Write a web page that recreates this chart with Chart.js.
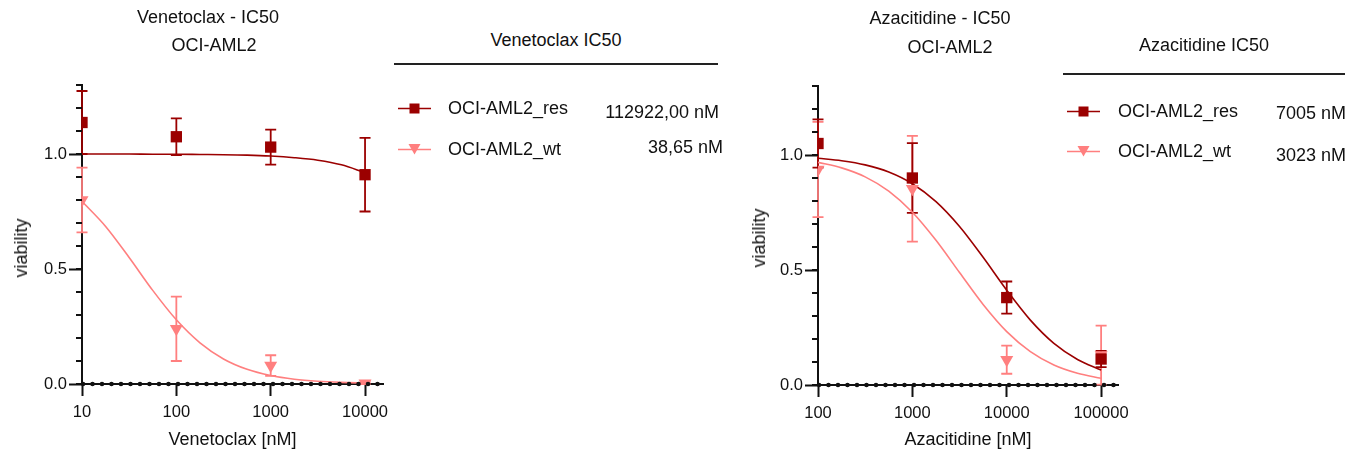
<!DOCTYPE html>
<html>
<head>
<meta charset="utf-8">
<script src="https://cdn.jsdelivr.net/npm/chart.js@4"></script>
<style>
  body { margin: 0; background: #fff; font-family: 'Liberation Sans', Arial, sans-serif; color: #111; }
  #wrap { position: relative; width: 1359px; height: 461px; overflow: hidden; }
  .cv { position: absolute; top: 0; height: 461px; }
  .txt { position: absolute; font-size: 18px; line-height: 22px; white-space: nowrap; }
  .ctr { transform: translateX(-50%); }
  .rt { transform: translateX(-100%); }
  .rot { transform: translate(-50%, -50%) rotate(-90deg); }
  .rule { position: absolute; height: 2px; background: #222; }
  .mk { position: absolute; }
</style>
</head>
<body>
<div id="wrap">
  <div class="cv" style="left:0;width:400px"><canvas id="venChart"></canvas></div>
  <div class="cv" style="left:740px;width:400px"><canvas id="azaChart"></canvas></div>

  <!-- titles -->
  <div class="txt ctr" style="left:208px;top:6px">Venetoclax - IC50</div>
  <div class="txt ctr" style="left:214px;top:34px">OCI-AML2</div>
  <div class="txt ctr" style="left:940px;top:7px">Azacitidine - IC50</div>
  <div class="txt ctr" style="left:950px;top:36px">OCI-AML2</div>

  <!-- y axis titles -->
  <div class="txt rot" style="left:21px;top:248px">viability</div>
  <div class="txt rot" style="left:759px;top:238px">viability</div>

  <!-- legend tables -->
  <div id="venLegend"></div>
  <div id="azaLegend"></div>
</div>

<script>
// ─── Data ──────────────────────────────────────────────────────────────────
const seriesNames = ['OCI-AML2_res', 'OCI-AML2_wt'];

const venDoses = [10, 100, 1000, 10000];
const venResMean = [1.137, 1.075, 1.03, 0.91];
const venResSd = [0.137, 0.08, 0.076, 0.16];
const venWtMean = [0.80, 0.24, 0.08, 0.003];
const venWtSd = [0.141, 0.14, 0.045, 0.005];
const venIc50 = ['112922,00 nM', '38,65 nM'];

const venCurveX = [10, 17.8, 31.6, 56.2, 100, 178, 316, 562, 1000, 1780, 3160, 5620, 10000];
const venResCurve = [1.000, 1.000, 1.000, 0.999, 0.999, 0.998, 0.997, 0.995, 0.991, 0.984, 0.973, 0.953, 0.919];
const venWtCurve = [0.794, 0.685, 0.550, 0.407, 0.279, 0.179, 0.109, 0.064, 0.037, 0.021, 0.012, 0.007, 0.004];

const azaDoses = [100, 1000, 10000, 100000];
const azaResMean = [1.05, 0.90, 0.38, 0.113];
const azaResSd = [0.105, 0.152, 0.07, 0.035];
const azaWtMean = [0.937, 0.853, 0.11, 0.13];
const azaWtSd = [0.207, 0.23, 0.061, 0.128];
const azaIc50 = ['7005 nM', '3023 nM'];

const azaCurveX = [100, 178, 316, 562, 1000, 1780, 3160, 5620, 10000, 17800, 31600, 56200, 100000];
const azaResCurve = [0.986, 0.975, 0.957, 0.926, 0.875, 0.797, 0.689, 0.555, 0.412, 0.282, 0.181, 0.111, 0.065];
const azaWtCurve = [0.968, 0.944, 0.905, 0.843, 0.751, 0.629, 0.489, 0.350, 0.232, 0.145, 0.087, 0.051, 0.029];

const yTicks = [0, 0.1, 0.2, 0.3, 0.4, 0.5, 0.6, 0.7, 0.8, 0.9, 1.0, 1.1, 1.2, 1.3];

// ─── Styling ───────────────────────────────────────────────────────────────
const RES = '#9b0000';
const WT = '#ff7f7f';
const FAMILY = "'Liberation Sans', Arial, sans-serif";
const TICK_FONT = { family: FAMILY, size: 16.5 };
const LABEL_FONT = { family: FAMILY, size: 18 };

const pts = (xs, ys) => xs.map((x, i) => ({ x, y: ys[i] }));
const isMajor = v => Math.abs(v * 2 - Math.round(v * 2)) < 1e-6;

// error bars + minor y ticks + dotted zero line
const extrasPlugin = {
  id: 'extras',
  beforeDatasetsDraw(chart) {
    const { ctx, scales: { x, y } } = chart;
    chart.data.datasets.slice().reverse().forEach(ds => {
      if (!ds.sd) return;
      ctx.save();
      ctx.strokeStyle = ds.borderColor;
      ctx.lineWidth = 1.8;
      ds.data.forEach((p, i) => {
        const px = x.getPixelForValue(p.x);
        const top = y.getPixelForValue(p.y + ds.sd[i]);
        const bot = y.getPixelForValue(Math.max(0, p.y - ds.sd[i]));
        ctx.beginPath();
        ctx.moveTo(px, top); ctx.lineTo(px, bot);
        ctx.moveTo(px - 5.5, top); ctx.lineTo(px + 5.5, top);
        ctx.moveTo(px - 5.5, bot); ctx.lineTo(px + 5.5, bot);
        ctx.stroke();
      });
      ctx.restore();
    });
  },
  afterDraw(chart) {
    const { ctx, chartArea, scales: { y } } = chart;
    ctx.save();
    // minor ticks on y
    ctx.strokeStyle = '#111';
    ctx.lineWidth = 2;
    y.ticks.forEach((t, i) => {
      const py = y.getPixelForTick(i);
      ctx.beginPath();
      ctx.moveTo(chartArea.left - 6, py);
      ctx.lineTo(chartArea.left, py);
      ctx.stroke();
    });
    // dotted line at zero
    const y0 = y.getPixelForValue(0);
    ctx.setLineDash([0, 9.5]);
    ctx.lineCap = 'round';
    ctx.lineWidth = 4.6;
    ctx.beginPath();
    ctx.moveTo(chartArea.left + 1, y0);
    ctx.lineTo(chartArea.right, y0);
    ctx.stroke();
    ctx.restore();
  },
};

function makeChart(id, opts) {
  const ctx = document.getElementById(id).getContext('2d');
  return new Chart(ctx, {
    type: 'scatter',
    data: {
      // dataset 0 is drawn last (on top)
      datasets: [
        {
          data: pts(opts.doses, opts.resMean), sd: opts.resSd, borderColor: RES, backgroundColor: RES,
          pointStyle: 'rect', pointRadius: 8, borderWidth: 0,
        },
        {
          data: pts(opts.doses, opts.wtMean), sd: opts.wtSd, borderColor: WT, backgroundColor: WT,
          pointStyle: 'triangle', rotation: 180, pointRadius: 7.5, borderWidth: 0,
        },
        {
          type: 'line', data: pts(opts.curveX, opts.resCurve), borderColor: RES, borderWidth: 1.6,
          pointRadius: 0, cubicInterpolationMode: 'monotone', fill: false,
        },
        {
          type: 'line', data: pts(opts.curveX, opts.wtCurve), borderColor: WT, borderWidth: 1.6,
          pointRadius: 0, cubicInterpolationMode: 'monotone', fill: false,
        },
      ],
    },
    options: {
      responsive: true,
      maintainAspectRatio: false,
      animation: false,
      events: [],
      layout: { padding: { top: opts.top, right: opts.right, left: 0, bottom: 0 } },
      plugins: { legend: { display: false }, tooltip: { enabled: false } },
      scales: {
        x: {
          type: 'logarithmic',
          min: opts.xMin,
          max: opts.xMax,
          afterBuildTicks: s => { s.ticks = opts.xTicks.map(v => ({ value: v })); },
          afterFit: s => { s.height = 461 - opts.bottom; },
          ticks: { color: '#111', font: TICK_FONT, padding: 7, maxRotation: 0, callback: v => String(v) },
          grid: { drawOnChartArea: false, tickLength: 12, tickWidth: 2, tickColor: '#111' },
          border: { color: '#111', width: 2 },
          title: { display: true, text: opts.xTitle, color: '#111', font: LABEL_FONT, padding: { bottom: 10 } },
        },
        y: {
          min: 0,
          max: 1.3,
          afterBuildTicks: s => { s.ticks = yTicks.map(v => ({ value: v })); },
          afterFit: s => { s.width = opts.yWidth; },
          ticks: {
            color: '#111', font: TICK_FONT, padding: 2,
            callback: v => (isMajor(v) ? v.toFixed(1) : ''),
          },
          grid: {
            drawOnChartArea: false, tickLength: 13, tickWidth: 2,
            tickColor: c => (isMajor(c.tick.value) ? '#111' : 'rgba(0,0,0,0)'),
          },
          border: { color: '#111', width: 2 },
        },
      },
    },
    plugins: [extrasPlugin],
  });
}

makeChart('venChart', {
  doses: venDoses, resMean: venResMean, resSd: venResSd, wtMean: venWtMean, wtSd: venWtSd,
  curveX: venCurveX, resCurve: venResCurve, wtCurve: venWtCurve,
  xMin: 10, xMax: 15500, xTicks: [10, 100, 1000, 10000], xTitle: 'Venetoclax [nM]',
  top: 85, right: 17, bottom: 384, yWidth: 82,
});

makeChart('azaChart', {
  doses: azaDoses, resMean: azaResMean, resSd: azaResSd, wtMean: azaWtMean, wtSd: azaWtSd,
  curveX: azaCurveX, resCurve: azaResCurve, wtCurve: azaWtCurve,
  xMin: 100, xMax: 151000, xTicks: [100, 1000, 10000, 100000], xTitle: 'Azacitidine [nM]',
  top: 86, right: 22, bottom: 385, yWidth: 78,
});

// ─── Legend tables ─────────────────────────────────────────────────────────
function marker(color, shape) {
  const glyph = shape === 'rect'
    ? `<rect x="11.5" y="4.5" width="10" height="10" fill="${color}"/>`
    : `<polygon points="10.5,4 22.5,4 16.5,14.5" fill="${color}"/>`;
  return `<svg width="33" height="19" viewBox="0 0 33 19"><line x1="0" y1="9.5" x2="33" y2="9.5" stroke="${color}" stroke-width="1.6"/>${glyph}</svg>`;
}

function buildLegend(el, g) {
  let html = `<div class="txt ctr" style="left:${g.cx}px;top:${g.headY - 11}px">${g.head}</div>`;
  html += `<div class="rule" style="left:${g.lineL}px;top:${g.lineY - 1}px;width:${g.lineR - g.lineL}px"></div>`;
  const colors = [RES, WT];
  const shapes = ['rect', 'triangle'];
  seriesNames.forEach((name, i) => {
    html += `<div class="mk" style="left:${g.mkL}px;top:${g.rowY[i] - 9.5}px">${marker(colors[i], shapes[i])}</div>`;
    html += `<div class="txt" style="left:${g.nameL}px;top:${g.rowY[i] - 11}px">${name}</div>`;
    html += `<div class="txt rt" style="left:${g.valR[i]}px;top:${g.valY[i] - 11}px">${g.vals[i]}</div>`;
  });
  el.innerHTML = html;
}

buildLegend(document.getElementById('venLegend'), {
  head: 'Venetoclax IC50', cx: 556, headY: 40, lineL: 394, lineR: 718, lineY: 64,
  mkL: 398, nameL: 448, rowY: [108, 149], valR: [719, 723], valY: [112, 147], vals: venIc50,
});
buildLegend(document.getElementById('azaLegend'), {
  head: 'Azacitidine IC50', cx: 1204, headY: 45, lineL: 1063, lineR: 1345, lineY: 74,
  mkL: 1067, nameL: 1118, rowY: [111, 151], valR: [1346, 1346], valY: [113, 155], vals: azaIc50,
});
</script>
</body>
</html>
